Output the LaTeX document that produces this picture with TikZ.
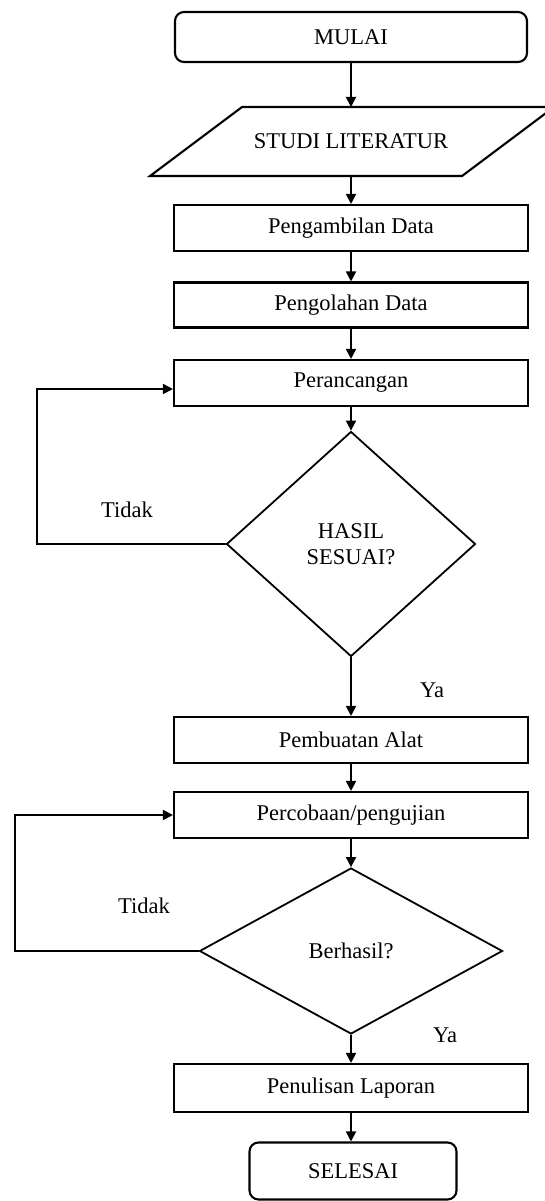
\documentclass[tikz,border=0pt]{standalone}
\usepackage{fontspec}
\setmainfont{Liberation Serif}
\usetikzlibrary{shapes.geometric,arrows.meta}
\begin{document}
\begin{tikzpicture}[x=1pt,y=-1pt,
  every node/.style={font=\fontsize{22.5}{26}\selectfont},
  box/.style={draw,line width=2.1pt,minimum width=354pt,inner sep=0pt},
  term/.style={draw,line width=2.1pt,rounded corners=9pt,inner sep=0pt},
  dec/.style={draw,diamond,line width=1.8pt,inner sep=0pt,align=center},
  conn/.style={line width=1.8pt},
  arr/.style={conn,-{Triangle[length=10pt,width=10pt]}},
  lbl/.style={inner sep=0pt}]
\useasboundingbox (0,0) rectangle (544,1201);
\fill[white] (0,0) rectangle (544,1201);

\node[term,minimum width=352pt,minimum height=50pt] (mulai) at (351,37) {MULAI};

% parallelogram
\draw[line width=2.1pt] (150,176) -- (462,176) -- (554,107) -- (242,107) -- cycle;
\node[lbl] (studi) at (351,141.5) {STUDI LITERATUR};
\coordinate (studiT) at (351,107);
\coordinate (studiB) at (351,176);

\node[box,minimum height=46pt] (ambil) at (351,228) {Pengambilan Data};
\node[box,minimum height=45pt] (olah) at (351,305) {Pengolahan Data};
\node[box,minimum height=46pt] (rancang) at (351,383) {Perancangan};
\node[dec,minimum width=249pt,minimum height=225pt] (hasil) at (351,544) {HASIL\\SESUAI?};
\node[box,minimum height=46pt] (buat) at (351,740) {Pembuatan Alat};
\node[box,minimum height=46pt] (coba) at (351,815) {Percobaan/pengujian};
\node[dec,minimum width=303pt,minimum height=166pt] (berhasil) at (351,951) {Berhasil?};
\node[box,minimum height=48pt] (tulis) at (351,1088) {Penulisan Laporan};
\node[term,minimum width=207pt,minimum height=57pt] (selesai) at (353,1171) {SELESAI};

\coordinate (l1) at (37,544);
\coordinate (l2) at (15,951);

\draw[arr] (mulai) -- (studiT);
\draw[arr] (studiB) -- (ambil);
\draw[arr] (ambil) -- (olah);
\draw[arr] (olah) -- (rancang);
\draw[arr] (rancang) -- (hasil);
\draw[arr] (hasil) -- (buat);
\draw[arr] (buat) -- (coba);
\draw[arr] (coba) -- (berhasil);
\draw[arr] (berhasil) -- (tulis);
\draw[arr] (tulis) -- (tulis.south |- selesai.north);

\draw[arr] (hasil.west) -- (l1) |- ([yshift=-6pt]rancang.west);
\draw[arr] (berhasil.west) -- (l2) |- (coba.west);

\node[lbl] (t1) at (127,510) {Tidak};
\node[lbl] (t2) at (144,906) {Tidak};
\node[lbl] (y1) at (432,690) {Ya};
\node[lbl] (y2) at (445,1035) {Ya};
\end{tikzpicture}
\end{document}
